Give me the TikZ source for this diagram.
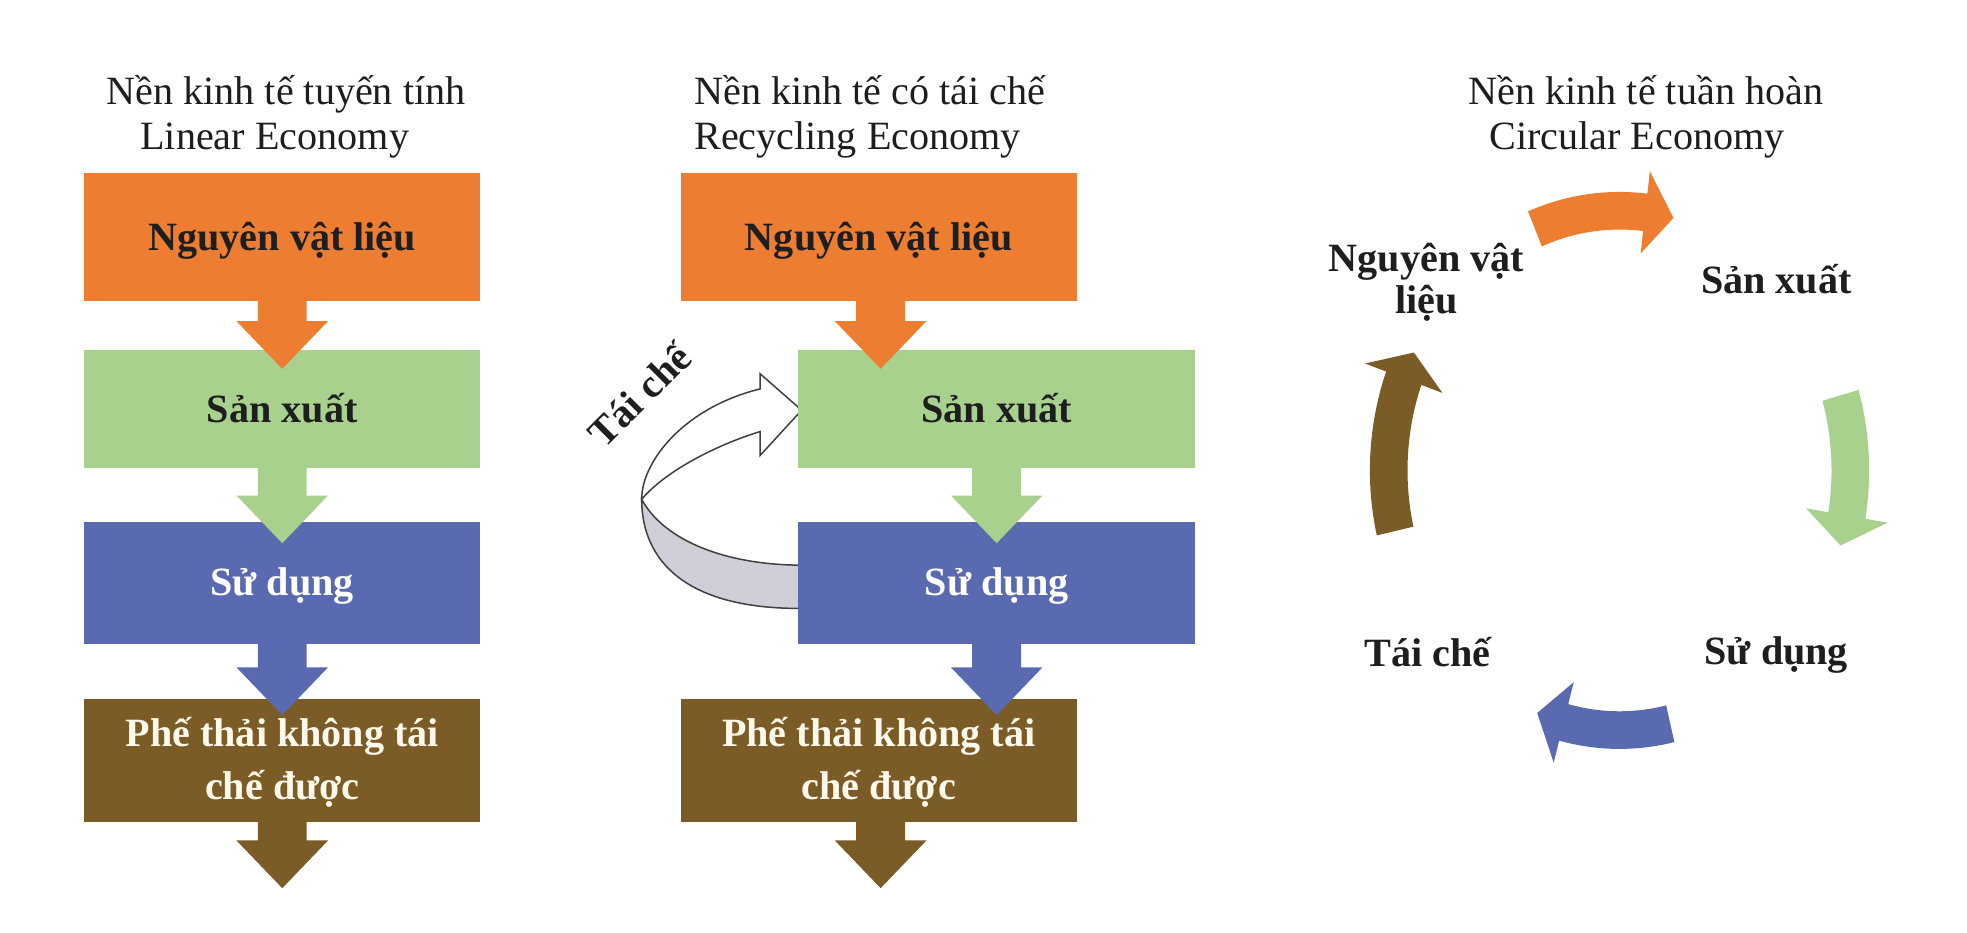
\documentclass[tikz,border=0pt]{standalone}
\usepackage{fontspec}
\setmainfont{Liberation Serif}
\usetikzlibrary{calc}
\definecolor{corange}{HTML}{ED7D31}
\definecolor{cgreen}{HTML}{A9D18E}
\definecolor{cblue}{HTML}{5A6AB0}
\definecolor{cbrown}{HTML}{7B5B26}
\definecolor{cgrey}{HTML}{CFCFD8}
\definecolor{ctext}{HTML}{1E1E1E}
\definecolor{ccream}{HTML}{FFF9EC}
% down arrow between stages: name, source node, x offset, shaft length, colour
\newcommand{\flowarrow}[5]{%
  \coordinate (#1) at ($(#2.south)+(#3,0)$);
  \fill[#5] ($(#1)+(-19.5,-1)$) -- ++(0,#4+1) -- ++(-17,0) -- ++(36.5,38)
    -- ++(36.5,-38) -- ++(-17,0) -- ++(0,-#4-1) -- cycle;}
% curved arrow of the cycle: tail angle, head-base angle, tip angle, colour
\newcommand{\cyclearrow}[4]{%
  \fill[#4] plot[domain=#1:#2, samples=30, variable=\t] ({199*cos(\t)},{222*sin(\t)})
    -- ({217*cos(#2)},{240*sin(#2)}) -- ({184*cos(#3)},{207*sin(#3)})
    -- ({151*cos(#2)},{174*sin(#2)})
    -- plot[domain=#2:#1, samples=30, variable=\t] ({169*cos(\t)},{192*sin(\t)}) -- cycle;}
\begin{document}
\begin{tikzpicture}[x=0.5pt,y=-0.5pt,
  stage/.style={rectangle, inner sep=0pt, outer sep=0pt, draw=none, minimum width=158pt},
  boxlbl/.style={font=\fontsize{16}{21}\selectfont\bfseries, anchor=base, inner sep=0pt},
  titlelbl/.style={font=\fontsize{16}{19}\selectfont, text=ctext, anchor=base, inner sep=0pt},
  cyclbl/.style={font=\fontsize{16}{17}\selectfont\bfseries, text=ctext, anchor=base, inner sep=0pt}]

\useasboundingbox[fill=white] (0,0) rectangle (1568,743);

% ---------- titles ----------
\node[titlelbl] (t1a) at (228,83) {Nền kinh tế tuyến tính};
\node[titlelbl] (t1b) at (219,119) {Linear Economy};
\node[titlelbl, anchor=base west] (t2a) at (553,83) {Nền kinh tế có tái chế};
\node[titlelbl, anchor=base west] (t2b) at (553,119) {Recycling Economy};
\node[titlelbl] (t3a) at (1312,83) {Nền kinh tế tuần hoàn};
\node[titlelbl] (t3b) at (1305,119) {Circular Economy};

% ---------- column 2 recycling loop (behind the boxes) ----------
\coordinate (gw) at (637,326);
\coordinate (bw) at (637,464.5);
\filldraw[fill=cgrey, draw=ctext!85, line width=0.6pt]
  (511.5,398) .. controls (530,432) and (580,450) .. ($(bw)+(0,-14)$)
  -- ($(bw)+(0,20.5)$) .. controls (548,485) and (511.5,448) .. (511.5,398) -- cycle;
\filldraw[fill=white, draw=ctext!85, line width=0.6pt, line join=miter]
  (606,310) -- (606,298) -- ($(gw)+(2,1)$) -- (606,363) -- (606,344)
  .. controls (570,355) and (530,376) .. (511.5,398)
  .. controls (511.5,368) and (545,325) .. (606,310) -- cycle;
\node[cyclbl, rotate=45] (rl) at (517.6,322.9) {Tái chế};

% ---------- column 1 boxes ----------
\node[stage, fill=corange, minimum height=51pt] (o1) at (225,189) {};
\node[stage, fill=cgreen, minimum height=47pt] (g1) at (225,326) {};
\node[stage, fill=cblue, minimum height=48.5pt] (b1) at (225,464.5) {};
\node[stage, fill=cbrown, minimum height=49pt] (w1) at (225,606) {};

% ---------- column 2 boxes ----------
\node[stage, fill=corange, minimum height=51pt] (o2) at (700.5,189) {};
\node[stage, fill=cgreen, minimum height=47pt] (g2) at (794.5,326) {};
\node[stage, fill=cblue, minimum height=48.5pt] (b2) at (794.5,464.5) {};
\node[stage, fill=cbrown, minimum height=49pt] (w2) at (700.5,606) {};

% ---------- arrows between stages ----------
\flowarrow{a1}{o1}{0}{16}{corange}
\flowarrow{a2}{g1}{0}{22}{cgreen}
\flowarrow{a3}{b1}{0}{19}{cblue}
\flowarrow{a4}{w1}{0}{15}{cbrown}
\flowarrow{a5}{o2}{1.5}{16}{corange}
\flowarrow{a6}{g2}{0}{22}{cgreen}
\flowarrow{a7}{b2}{0}{19}{cblue}
\flowarrow{a8}{w2}{1.5}{15}{cbrown}

% ---------- box labels ----------
\node[boxlbl, text=ctext] (l1) at ($(o1.center)+(0,10.5)$) {Nguyên vật liệu};
\node[boxlbl, text=ctext] (l2) at ($(g1.center)+(0,10.5)$) {Sản xuất};
\node[boxlbl, text=white] (l3) at ($(b1.center)+(0,10.5)$) {Sử dụng};
\node[boxlbl, text=ccream] (l4) at ($(w1.center)+(0,-11)$) {Phế thải không tái};
\node[boxlbl, text=ccream] (l5) at ($(w1.center)+(0,31)$) {chế được};
\node[boxlbl, text=ctext] (m1) at ($(o2.center)+(0,10.5)$) {Nguyên vật liệu};
\node[boxlbl, text=ctext] (m2) at ($(g2.center)+(0,10.5)$) {Sản xuất};
\node[boxlbl, text=white] (m3) at ($(b2.center)+(0,10.5)$) {Sử dụng};
\node[boxlbl, text=ccream] (m4) at ($(w2.center)+(0,-11)$) {Phế thải không tái};
\node[boxlbl, text=ccream] (m5) at ($(w2.center)+(0,31)$) {chế được};

% ---------- column 3 cycle ----------
\begin{scope}[shift={(1291,375)}]
  \cyclearrow{-111.5}{-83.6}{-76.5}{corange}
  \cyclearrow{-16.8}{10}{16.8}{cgreen}
  \cyclearrow{77.3}{104}{110.9}{cblue}
  \cyclearrow{166.5}{200.8}{207}{cbrown}
\end{scope}
\node[cyclbl] (c1a) at (1137,216.6) {Nguyên vật};
\node[cyclbl] (c1b) at (1137,249.8) {liệu};
\node[cyclbl] (c2) at (1416,233.8) {Sản xuất};
\node[cyclbl] (c3) at (1416,530) {Sử dụng};
\node[cyclbl] (c4) at (1138,531.4) {Tái chế};
\end{tikzpicture}
\end{document}
